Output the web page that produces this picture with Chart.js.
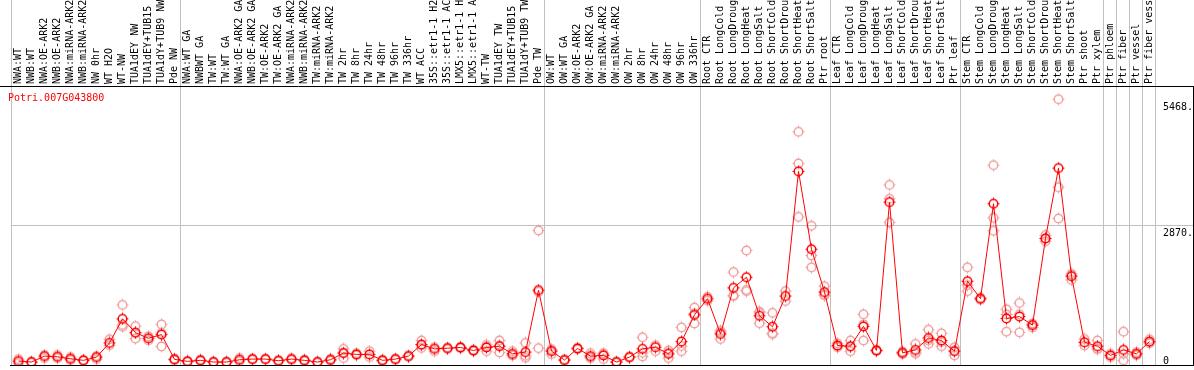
<!DOCTYPE html>
<html><head><meta charset="utf-8">
<script src="https://cdn.jsdelivr.net/npm/chart.js@4.4.0/dist/chart.umd.min.js"></script>
<style>html,body{margin:0;padding:0;background:#fff;overflow:hidden}</style>
</head><body>
<canvas id="c" width="1194" height="370" style="display:block;width:1194px;height:370px"></canvas>
<script>
const geneId = "Potri.007G043800";
const categories = [
"NWA:WT","NWB:WT","NWA:OE-ARK2","NWB:OE-ARK2","NWA:miRNA-ARK2","NWB:miRNA-ARK2","NW 0hr","WT H2O","WT-NW","TUA1dEY NW",
"TUA1dEY+TUB15","TUA1dY+TUB9 NW","Pde NW","NWA:WT GA","NWBWT GA","TW:WT","TW:WT GA","NWA:OE-ARK2 GA","NWB:OE-ARK2 GA","TW:OE-ARK2",
"TW:OE-ARK2 GA","NWA:miRNA-ARK2","NWB:miRNA-ARK2","TW:miRNA-ARK2","TW:miRNA-ARK2","TW 2hr","TW 8hr","TW 24hr","TW 48hr","TW 96hr",
"TW 336hr","WT ACC","35S::etr1-1 H2","35S::etr1-1 AC","LMX5::etr1-1 H","LMX5::etr1-1 A","WT-TW","TUA1dEY TW","TUA1dEY+TUB15","TUA1dY+TUB9 TW",
"Pde TW","OW:WT","OW:WT GA","OW:OE-ARK2","OW:OE-ARK2 GA","OW:miRNA-ARK2","OW:miRNA-ARK2","OW 2hr","OW 8hr","OW 24hr",
"OW 48hr","OW 96hr","OW 336hr","Root CTR","Root LongCold","Root LongDroug","Root LongHeat","Root LongSalt","Root ShortCold","Root ShortDrou",
"Root ShortHeat","Root ShortSalt","Ptr root","Leaf CTR","Leaf LongCold","Leaf LongDroug","Leaf LongHeat","Leaf LongSalt","Leaf ShortCold","Leaf ShortDrou",
"Leaf ShortHeat","Leaf ShortSalt","Ptr leaf","Stem CTR","Stem LongCold","Stem LongDroug","Stem LongHeat","Stem LongSalt","Stem ShortCold","Stem ShortDrou",
"Stem ShortHeat","Stem ShortSalt","Ptr shoot","Ptr xylem","Ptr phloem","Ptr fiber","Ptr vessel","Ptr fiber vess"
];
const meanValues = [
81,61,183,169,128,96,163,454,950,665,
550,625,116,75,96,61,61,108,122,122,
88,122,96,61,108,244,218,218,96,122,
183,421,332,346,360,299,360,387,230,265,
1541,285,102,340,183,197,61,163,332,366,
230,482,1032,1364,637,1588,1806,1012,788,1419,
3984,2382,1500,401,387,794,299,3352,250,311,
556,503,285,1724,1364,3318,957,997,820,2605,
4051,1826,468,387,197,311,230,482
];
const rep1 = [
122,70,204,204,163,102,183,529,1236,800,
590,835,130,85,110,70,72,142,135,130,
100,140,110,72,125,332,244,285,110,135,
200,503,366,360,375,315,413,503,285,454,
2768,326,115,355,244,244,72,175,570,407,
299,773,1181,1404,535,1913,2355,1099,1073,1520,
4798,2864,1622,366,503,1044,315,3705,224,434,
727,651,366,2009,1384,4112,1146,1276,855,2673,
5468,1750,535,503,230,686,204,529
];
const rep2 = [
41,50,142,142,102,90,122,407,788,543,
509,381,100,65,82,52,50,81,110,112,
76,105,82,50,92,142,204,163,82,108,
166,352,285,330,345,283,285,259,204,149,
346,224,90,325,142,122,50,150,177,285,
142,285,855,1323,672,1419,1520,861,637,1317,
4146,2253,1439,448,285,503,283,2931,276,265,
434,387,197,1520,1343,3027,686,672,773,2544,
3658,1873,401,326,163,96,265,448
];
const rep3 = [
null,null,null,null,null,null,null,null,826,660,
null,660,null,null,null,null,null,null,null,null,
null,null,null,null,null,258,null,null,null,null,
null,410,null,null,null,null,380,400,200,190,
1506,300,null,null,163,225,null,null,250,null,
250,390,1060,null,704,1432,1543,1076,654,null,
3047,2009,1439,389,373,835,null,3420,250,234,
507,471,292,1643,null,2762,1039,1043,832,2598,
3013,1855,null,332,null,230,221,469
];
const groupBoundaries = [0,13,41,53,63,73,84,85,86,87,88];
const yMax = 5740;
const gridValue = 2870;
const yTickValues = [0, 2870, 5468];
const yTickLabels = ["0", "2870.", "5468."];

const MONO = "'DejaVu Sans Mono', 'Liberation Mono', monospace";

function makeMarker(color) {
  const c = document.createElement('canvas');
  c.width = 13; c.height = 13;
  const g = c.getContext('2d');
  g.strokeStyle = color;
  g.lineWidth = 1.5;
  g.beginPath(); g.arc(6.5, 6.5, 4.3, 0, Math.PI * 2); g.stroke();
  g.lineWidth = 1;
  g.beginPath();
  g.moveTo(6.5, 0.5); g.lineTo(6.5, 2);
  g.moveTo(6.5, 11); g.lineTo(6.5, 12.5);
  g.moveTo(0.5, 6.5); g.lineTo(2, 6.5);
  g.moveTo(11, 6.5); g.lineTo(12.5, 6.5);
  g.stroke();
  return c;
}
const redMarker = makeMarker('#ff0000');
const paleMarker = makeMarker('#f0a0a0');

const framePlugin = {
  id: 'frame',
  beforeDatasetsDraw(chart) {
    const ctx = chart.ctx, x = chart.scales.x, ca = chart.chartArea;
    ctx.save();
    ctx.strokeStyle = '#c0c0c0';
    ctx.lineWidth = 1;
    groupBoundaries.forEach(k => {
      const px = Math.round(x.getPixelForValue(k - 0.5)) - 0.5;
      ctx.beginPath(); ctx.moveTo(px, 0); ctx.lineTo(px, ca.bottom); ctx.stroke();
    });
    ctx.restore();
  },
  afterDraw(chart) {
    const ctx = chart.ctx, ca = chart.chartArea, y = chart.scales.y;
    const W = chart.width;
    ctx.save();
    ctx.strokeStyle = '#000';
    ctx.lineWidth = 1;
    ctx.beginPath();
    ctx.moveTo(0, ca.top + 0.5); ctx.lineTo(W, ca.top + 0.5);
    ctx.moveTo(10, ca.bottom + 0.5); ctx.lineTo(W, ca.bottom + 0.5);
    ctx.moveTo(W - 0.5, ca.top); ctx.lineTo(W - 0.5, ca.bottom + 1);
    ctx.stroke();
    ctx.fillStyle = '#ff0000';
    ctx.font = '10px ' + MONO;
    ctx.textBaseline = 'middle';
    ctx.textAlign = 'left';
    ctx.fillText(geneId, 8, 98);
    ctx.fillStyle = '#000';
    ctx.textBaseline = 'top';
    yTickValues.forEach((v, i) => {
      let py = y.getPixelForValue(v) + 3;
      py = Math.min(py, ca.bottom - 9);
      ctx.fillText(yTickLabels[i], ca.right + 7, py);
    });
    ctx.restore();
  }
};

new Chart(document.getElementById('c'), {
  type: 'line',
  data: {
    labels: categories,
    datasets: [
      { data: meanValues, borderColor: '#ff0000', borderWidth: 1, pointStyle: redMarker, pointRadius: 4, tension: 0, fill: false },
      { data: rep1, showLine: false, pointStyle: paleMarker, pointRadius: 4 },
      { data: rep2, showLine: false, pointStyle: paleMarker, pointRadius: 4 },
      { data: rep3, showLine: false, pointStyle: paleMarker, pointRadius: 4 }
    ]
  },
  options: {
    responsive: false,
    animation: false,
    events: [],
    layout: { padding: { left: 12, right: 0, top: 0, bottom: 2 } },
    plugins: { legend: { display: false }, tooltip: { enabled: false }, title: { display: false } },
    scales: {
      x: {
        type: 'category',
        position: 'top',
        offset: true,
        grid: { display: false, drawTicks: false },
        border: { display: false },
        ticks: {
          autoSkip: false, minRotation: 90, maxRotation: 90, padding: 2, labelOffset: 12,
          color: '#000', font: { family: MONO, size: 10 }
        },
        afterFit(s) { s.height = 86; }
      },
      y: {
        position: 'right',
        min: 0, max: yMax,
        afterBuildTicks(s) { s.ticks = yTickValues.map(v => ({ value: v })); },
        ticks: { display: false },
        grid: {
          color: c => (c.tick && c.tick.value === gridValue) ? '#c0c0c0' : 'rgba(0,0,0,0)',
          drawTicks: true, tickLength: 38
        },
        border: { display: false },
        afterFit(s) { s.width = 38; }
      }
    }
  },
  plugins: [framePlugin]
});
</script>
</body></html>
